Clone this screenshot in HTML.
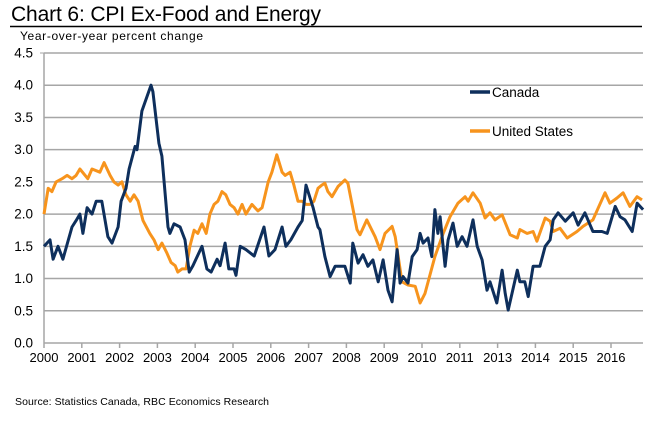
<!DOCTYPE html>
<html><head><meta charset="utf-8"><style>
body{margin:0;background:#fff;width:650px;height:419px;overflow:hidden;font-family:"Liberation Sans",sans-serif;}
</style></head><body>
<svg id="chart" width="650" height="419" xmlns="http://www.w3.org/2000/svg" font-family="Liberation Sans, sans-serif">
<text x="11" y="21" font-size="21" fill="#000" textLength="310">Chart 6: CPI Ex-Food and Energy</text>
<line x1="10" y1="26.5" x2="642" y2="26.5" stroke="#000" stroke-width="1.5"/>
<text x="20" y="40" font-size="12" fill="#000" textLength="183">Year-over-year percent change</text>
<g id="grid"></g><g id="axes"></g><g id="series"></g>
<g>
<line x1="470" y1="92" x2="490" y2="92" stroke="#0e2f5c" stroke-width="3.5"/>
<text x="492" y="97" font-size="13.5">Canada</text>
<line x1="470" y1="131" x2="490" y2="131" stroke="#f7941d" stroke-width="3.5"/>
<text x="492" y="136" font-size="13.5">United States</text>
</g>
<text x="15" y="405" font-size="10.5" textLength="254">Source: Statistics Canada, RBC Economics Research</text>
</svg>
<script>
const yTicks=[0,0.5,1,1.5,2,2.5,3,3.5,4,4.5];
const xLabels=["2000","2001","2002","2003","2004","2005","2006","2007","2008","2009","2010","2011","2013","2014","2015","2016"];
const caTimes=[0,.16,.24,.37,.50,.74,.85,.95,1.03,1.14,1.27,1.38,1.53,1.69,1.80,1.96,2.04,2.17,2.25,2.41,2.46,2.59,2.83,2.88,3.04,3.12,3.28,3.33,3.44,3.60,3.73,3.84,3.94,4.18,4.31,4.42,4.58,4.66,4.79,4.89,5.03,5.08,5.19,5.34,5.56,5.82,5.95,6.11,6.30,6.40,6.53,6.72,6.83,6.93,7.12,7.25,7.30,7.43,7.57,7.70,7.96,8.10,8.17,8.31,8.44,8.57,8.70,8.84,8.97,9.10,9.21,9.34,9.42,9.50,9.63,9.74,9.87,9.95,10.03,10.16,10.26,10.34,10.42,10.48,10.61,10.69,10.82,10.93,11.06,11.19,11.35,11.46,11.59,11.72,11.80,11.98,12.12,12.20,12.28,12.38,12.52,12.59,12.72,12.81,12.94,13.12,13.26,13.39,13.47,13.60,13.79,14.00,14.13,14.31,14.52,14.76,14.90,15.11,15.24,15.37,15.56,15.69,15.85];
const caValues=[1.5,1.6,1.3,1.5,1.3,1.8,1.9,2.0,1.7,2.1,2.0,2.2,2.2,1.65,1.55,1.8,2.2,2.4,2.7,3.05,3.0,3.6,4.0,3.9,3.1,2.9,1.8,1.7,1.85,1.8,1.6,1.1,1.2,1.5,1.15,1.1,1.3,1.2,1.55,1.15,1.15,1.05,1.5,1.45,1.35,1.8,1.35,1.45,1.8,1.5,1.6,1.8,1.9,2.45,2.1,1.8,1.76,1.34,1.03,1.19,1.19,0.93,1.55,1.24,1.37,1.19,1.29,0.95,1.29,0.82,0.64,1.45,0.93,1.03,0.93,1.34,1.45,1.7,1.55,1.63,1.34,2.07,1.7,1.96,1.19,1.6,1.86,1.5,1.65,1.5,1.91,1.5,1.29,0.82,0.95,0.62,1.13,0.77,0.51,0.77,1.13,0.95,0.95,0.72,1.19,1.19,1.5,1.6,1.91,2.02,1.89,2.02,1.83,2.02,1.73,1.73,1.7,2.12,1.96,1.91,1.73,2.17,2.07];
const usTimes=[0,.11,.21,.32,.48,.61,.74,.85,.95,1.16,1.27,1.48,1.59,1.75,1.85,1.96,2.06,2.17,2.28,2.38,2.49,2.62,2.80,2.91,3.02,3.12,3.25,3.36,3.47,3.54,3.65,3.76,3.86,3.97,4.07,4.18,4.29,4.39,4.50,4.60,4.71,4.81,4.92,5.03,5.13,5.24,5.34,5.50,5.66,5.77,5.93,6.03,6.16,6.30,6.38,6.51,6.61,6.72,6.83,6.93,7.04,7.14,7.25,7.35,7.43,7.51,7.62,7.78,7.96,8.04,8.28,8.36,8.54,8.76,8.89,9.02,9.21,9.29,9.47,9.63,9.82,9.95,10.08,10.34,10.56,10.74,10.95,11.14,11.22,11.35,11.54,11.67,11.80,11.93,12.12,12.33,12.52,12.59,12.78,12.94,13.04,13.26,13.39,13.47,13.65,13.84,14.10,14.26,14.52,14.84,14.97,15.16,15.32,15.50,15.69,15.82];
const usValues=[2.0,2.4,2.35,2.5,2.55,2.6,2.55,2.6,2.7,2.55,2.7,2.65,2.8,2.6,2.5,2.45,2.5,2.3,2.2,2.3,2.2,1.9,1.7,1.6,1.45,1.55,1.4,1.25,1.2,1.1,1.15,1.15,1.5,1.75,1.7,1.85,1.7,2.0,2.15,2.2,2.35,2.3,2.15,2.1,2.0,2.15,2.0,2.15,2.05,2.1,2.5,2.65,2.92,2.65,2.6,2.65,2.45,2.2,2.2,2.15,2.15,2.2,2.4,2.45,2.48,2.35,2.27,2.43,2.53,2.48,1.76,1.68,1.91,1.65,1.45,1.7,1.81,1.65,0.95,0.9,0.88,0.62,0.77,1.34,1.7,1.96,2.17,2.27,2.2,2.33,2.17,1.94,2.02,1.91,1.99,1.68,1.63,1.76,1.7,1.73,1.58,1.94,1.89,1.73,1.78,1.63,1.73,1.81,1.91,2.33,2.17,2.25,2.33,2.12,2.27,2.22];

const NS="http://www.w3.org/2000/svg";
const L=44,R=643,T=53,B=343,yMax=4.5,yrW=37.8;
function xS(t){return L+t*yrW;}
function yS(v){return B-(v/yMax)*(B-T);}
function mk(tag,attrs,parent){const e=document.createElementNS(NS,tag);for(const k in attrs)e.setAttribute(k,attrs[k]);parent.appendChild(e);return e;}
const grid=document.getElementById('grid'),axes=document.getElementById('axes'),series=document.getElementById('series');
yTicks.forEach(v=>{
  if(v>0){const g=mk('line',{x1:L,x2:R,y1:yS(v),y2:yS(v),stroke:'#a6a6a6','stroke-width':1.5},grid);
  
  }
  const t=mk('text',{x:33,y:yS(v)+4.5,'text-anchor':'end','font-size':13.5},axes);
  t.textContent=v.toFixed(1);
  
  
});
const ya=mk('line',{x1:L,x2:L,y1:T,y2:B,stroke:'#a6a6a6','stroke-width':1.5},axes);


const xa=mk('line',{x1:L,x2:R,y1:B,y2:B,stroke:'#a6a6a6','stroke-width':1.5},axes);


mk('line',{x1:L-4,x2:L,y1:T,y2:T,stroke:'#a6a6a6'},axes);
xLabels.forEach((lab,i)=>{
  const tk=mk('line',{x1:xS(i),x2:xS(i),y1:B,y2:B+5,stroke:'#a6a6a6','stroke-width':1.5},axes);
  
  
  const t=mk('text',{x:xS(i),y:B+19,'text-anchor':'middle','font-size':13},axes);
  t.textContent=lab;
  
  
});
function line(ts,vs,color,name){
  const d=ts.map((t,i)=>(i?'L':'M')+xS(t).toFixed(1)+','+yS(vs[i]).toFixed(1)).join('');
  const p=mk('path',{d:d,fill:'none',stroke:color,'stroke-width':3,'stroke-linejoin':'round'},series);
  
  
}
line(usTimes,usValues,'#f7941d','us-line');
line(caTimes,caValues,'#0e2f5c','canada-line');
</script>
</body></html>
